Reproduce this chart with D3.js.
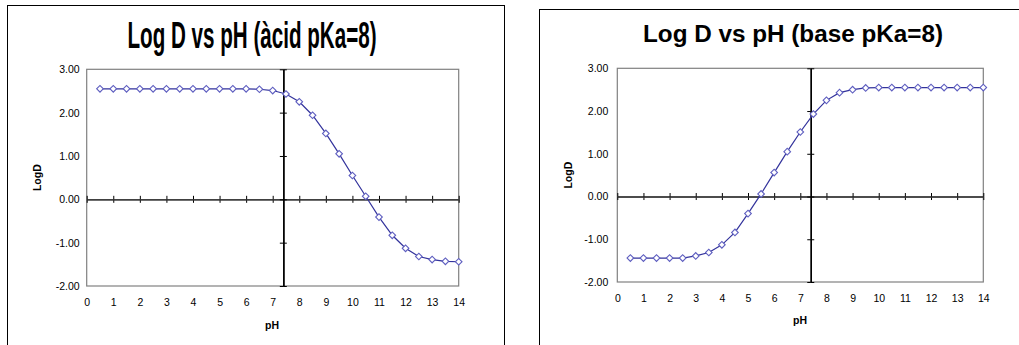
<!DOCTYPE html>
<html>
<head>
<meta charset="utf-8">
<script src="https://cdn.jsdelivr.net/npm/d3@7"></script>
<style>
  html, body { margin: 0; padding: 0; background: #ffffff; }
  svg { display: block; }
  text { font-family: "Liberation Sans", Arial, sans-serif; fill: #000; }
</style>
</head>
<body>
<svg id="chart" width="1019" height="345"></svg>
<script>
// ---------- data ----------
const phValues = [0.5, 1, 1.5, 2, 2.5, 3, 3.5, 4, 4.5, 5, 5.5, 6, 6.5, 7,
                  7.5, 8, 8.5, 9, 9.5, 10, 10.5, 11, 11.5, 12, 12.5, 13, 13.5, 14];
const acidLogD = [2.55, 2.55, 2.55, 2.55, 2.55, 2.55, 2.55, 2.55, 2.55, 2.55, 2.55, 2.55, 2.54, 2.51,
                  2.43, 2.25, 1.94, 1.52, 1.05, 0.55, 0.07, -0.41, -0.83, -1.13, -1.32, -1.39, -1.43, -1.44];
const baseLogD = [-1.44, -1.44, -1.44, -1.44, -1.44, -1.39, -1.31, -1.13, -0.84, -0.40, 0.06, 0.56, 1.05, 1.51,
                  1.93, 2.25, 2.43, 2.50, 2.54, 2.55, 2.55, 2.55, 2.55, 2.55, 2.55, 2.55, 2.55, 2.55];
const xTicks = [0, 1, 2, 3, 4, 5, 6, 7, 8, 9, 10, 11, 12, 13, 14];
const yTicks = [-2, -1, 0, 1, 2, 3];
const yTickLabels = ["-2.00", "-1.00", "0.00", "1.00", "2.00", "3.00"];
const axisCrossPH = 7.4;
const titles = ["Log D vs pH (\u00e0cid pKa=8)", "Log D vs pH (base pKa=8)"];
const xTitle = "pH";
const yTitle = "LogD";

// ---------- layout ----------
const svg = d3.select("#chart");

const charts = [
  { frame: {x: 7.5, y: 5.5, w: 497, h: 360},
    plot: {l: 86.7, r: 458.7, t: 69.3, b: 286},
    title: {x: 252, y: 48, size: 37, len: 249},
    yLabGap: 7, xLabDy: 20, xTitlePos: {x: 272, y: 329}, yTitleX: 41,
    values: acidLogD, name: titles[0] },
  { frame: {x: 539.5, y: 9.5, w: 520, h: 360},
    plot: {l: 617.3, r: 983.3, t: 68.3, b: 282},
    title: {x: 793, y: 42, size: 23.5, len: 300},
    yLabGap: 9, xLabDy: 20, xTitlePos: {x: 800, y: 324}, yTitleX: 572,
    values: baseLogD, name: titles[1] }
];

charts.forEach(c => {
  const g = svg.append("g");
  // frame
  g.append("rect")
    .attr("x", c.frame.x).attr("y", c.frame.y)
    .attr("width", c.frame.w).attr("height", c.frame.h)
    .attr("fill", "#fff").attr("stroke", "#000").attr("stroke-width", 1);

  const x = d3.scaleLinear().domain([0, 14]).range([c.plot.l, c.plot.r]);
  const y = d3.scaleLinear().domain([-2, 3]).range([c.plot.b, c.plot.t]);

  // plot area border
  g.append("rect")
    .attr("x", c.plot.l).attr("y", c.plot.t)
    .attr("width", c.plot.r - c.plot.l).attr("height", c.plot.b - c.plot.t)
    .attr("fill", "#fff").attr("stroke", "#808080").attr("stroke-width", 1.2);

  // title
  g.append("text")
    .attr("x", c.title.x).attr("y", c.title.y)
    .attr("text-anchor", "middle")
    .attr("font-size", c.title.size).attr("font-weight", "bold")
    .attr("textLength", c.title.len).attr("lengthAdjust", "spacingAndGlyphs")
    .text(c.name);

  // y tick labels (low position)
  const yLab = g.append("g")
    .attr("transform", `translate(${c.plot.l - c.yLabGap},0)`)
    .call(d3.axisLeft(y).tickValues(yTicks).tickSize(0)
      .tickFormat((d, i) => yTickLabels[i]));
  yLab.select(".domain").remove();
  yLab.selectAll("text").attr("font-size", 10.5).attr("font-family", null).attr("dx", 0).attr("x", 0);

  // x tick labels (low position)
  const xLab = g.append("g")
    .attr("transform", `translate(0,${c.plot.b + c.xLabDy - 7})`)
    .call(d3.axisBottom(x).tickValues(xTicks).tickSize(0).tickFormat(d3.format("d")));
  xLab.select(".domain").remove();
  xLab.selectAll("text").attr("font-size", 10.5).attr("font-family", null).attr("y", 0).attr("dy", "0.71em");

  // horizontal axis line at y = 0 with crossing ticks
  [d3.axisBottom, d3.axisTop].forEach(ax => {
    const a = g.append("g")
      .attr("transform", `translate(0,${y(0)})`)
      .call(ax(x).tickValues(xTicks).tickSizeInner(3.5).tickSizeOuter(0).tickFormat(""));
    a.select(".domain").attr("stroke", "#404040").attr("stroke-width", 1.4);
    a.selectAll(".tick line").attr("stroke", "#000").attr("stroke-width", 1);
  });

  // vertical axis at pH 7.4 with crossing ticks
  [d3.axisLeft, d3.axisRight].forEach(ax => {
    const a = g.append("g")
      .attr("transform", `translate(${x(axisCrossPH)},0)`)
      .call(ax(y).tickValues(yTicks).tickSizeInner(3.5).tickSizeOuter(0).tickFormat(""));
    a.select(".domain").attr("stroke", "#000").attr("stroke-width", 1.4);
    a.selectAll(".tick line").attr("stroke", "#000").attr("stroke-width", 1);
  });

  // axis titles
  g.append("text")
    .attr("x", c.xTitlePos.x).attr("y", c.xTitlePos.y)
    .attr("text-anchor", "middle").attr("font-size", 10.5).attr("font-weight", "bold")
    .text(xTitle);
  g.append("text")
    .attr("transform", `translate(${c.yTitleX},${(c.plot.t + c.plot.b) / 2}) rotate(-90)`)
    .attr("text-anchor", "middle").attr("font-size", 10.5).attr("font-weight", "bold")
    .text(yTitle);

  // series
  const pts = phValues.map((p, i) => [p, c.values[i]]);
  g.append("path")
    .datum(pts)
    .attr("fill", "none").attr("stroke", "#33339c").attr("stroke-width", 1.2)
    .attr("d", d3.line().x(d => x(d[0])).y(d => y(d[1])));

  const sym = d3.symbol().type(d3.symbolDiamond2).size(32);
  g.selectAll("path.marker")
    .data(pts)
    .join("path")
    .attr("class", "marker")
    .attr("transform", d => `translate(${x(d[0])},${y(d[1])}) rotate(45)`)
    .attr("d", d3.symbol().type(d3.symbolSquare).size(22))
    .attr("fill", "#fff").attr("stroke", "#5f5fc0").attr("stroke-width", 1.1);
});
</script>
</body>
</html>
